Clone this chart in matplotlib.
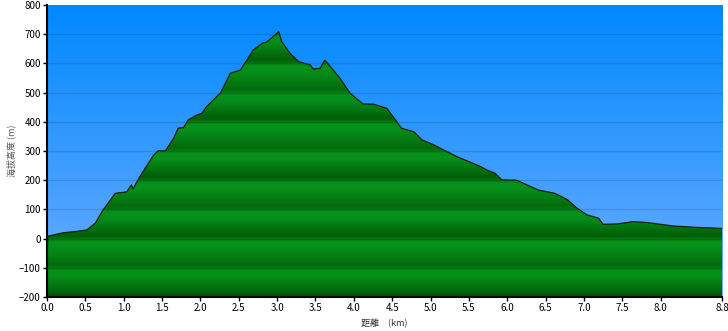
import numpy as np
import matplotlib.pyplot as plt
from matplotlib.patches import Polygon
from matplotlib.colors import LinearSegmentedColormap

plt.rcParams['font.family'] = ['Noto Sans CJK TC', 'DejaVu Sans']

# 距離 (km) と 海拔高度 (m) — 画像から読み取り
dist_km = [0.0, 0.01, 0.21, 0.40, 0.52, 0.63, 0.73, 0.89, 1.04, 1.10, 1.12, 1.21,
           1.39, 1.45, 1.54, 1.65, 1.71, 1.78, 1.84, 1.95, 2.02, 2.08, 2.17, 2.26,
           2.39, 2.52, 2.62, 2.69, 2.82, 2.86, 2.95, 3.02, 3.06, 3.17, 3.28, 3.43,
           3.47, 3.56, 3.62, 3.69, 3.82, 3.95, 4.12, 4.26, 4.43, 4.51, 4.62, 4.78,
           4.89, 5.04, 5.34, 5.65, 5.75, 5.84, 5.93, 6.12, 6.41, 6.62, 6.78, 6.91,
           7.04, 7.19, 7.25, 7.43, 7.64, 7.82, 8.17, 8.50, 8.80]
elev_m = [-80, 8, 20, 25, 30, 53, 98, 155, 160, 184, 170, 212,
          286, 301, 300, 343, 378, 380, 406, 423, 429, 452, 475, 498,
          566, 577, 617, 646, 671, 672, 692, 709, 674, 634, 606, 595,
          581, 583, 611, 590, 549, 498, 461, 460, 446, 418, 378, 366,
          338, 321, 281, 247, 233, 224, 201, 200, 166, 155, 134, 104,
          81, 70, 49, 50, 58, 55, 43, 38, 35]

xticks = [0.0, 0.5, 1.0, 1.5, 2.0, 2.5, 3.0, 3.5, 4.0, 4.5, 5.0, 5.5, 6.0,
          6.5, 7.0, 7.5, 8.0, 8.8]
yticks = list(range(-200, 801, 100))

fig = plt.figure(figsize=(7.28, 3.31), dpi=100)
ax = fig.add_axes([0.0646, 0.1027, 0.9272, 0.8823])
xmin, xmax, ymin, ymax = 0.0, 8.8, -200, 800

# 背景（青のグラデーション）
sky = LinearSegmentedColormap.from_list('sky', ['#6eaeff', '#0088ff'])
grad = np.linspace(0, 1, 256).reshape(-1, 1)
ax.imshow(grad, cmap=sky, origin='lower', aspect='auto',
          extent=[xmin, xmax, ymin, ymax], zorder=0)

# 地形（緑の縞グラデーション、100 m ごと）
v = np.linspace(ymin, ymax, 2000)
band = np.floor((v - ymin) / 100).astype(int)
phase = ((v - ymin) % 100) / 100.0
b = np.clip(phase * 1.3, 0, 1) ** 0.75
b = np.where(band % 2 == 0, b, 0.25 + 0.75 * b)
k = np.exp(-0.5 * (np.arange(-40, 41) / 14.0) ** 2)
b = np.convolve(np.pad(b, 40, mode='edge'), k / k.sum(), mode='valid')
dark = np.array([0, 76, 0]) / 255
bright = np.array([6, 146, 28]) / 255
img = (dark[None, :] * (1 - b[:, None]) + bright[None, :] * b[:, None]).reshape(-1, 1, 3)
im = ax.imshow(img, origin='lower', aspect='auto',
               extent=[xmin, xmax, ymin, ymax], zorder=1, interpolation='bilinear')
poly_pts = [(dist_km[0], ymin)] + list(zip(dist_km, elev_m)) + [(dist_km[-1], ymin)]
poly = Polygon(poly_pts, closed=True, facecolor='none', edgecolor='none')
ax.add_patch(poly)
im.set_clip_path(poly)
ax.plot(dist_km, elev_m, color='#0a200a', lw=0.9, zorder=3)

# グリッド
for y in yticks[1:-1]:
    ax.axhline(y, color='black', alpha=0.12, lw=1.0, zorder=2)

ax.set_xlim(xmin, xmax)
ax.set_ylim(ymin, ymax)
ax.set_xticks(xticks)
ax.set_xticklabels([f'{t:.1f}' for t in xticks])
ax.set_yticks(yticks)
ax.tick_params(direction='out', length=3, width=1, labelsize=7, pad=1.5)
for s in ['top', 'right']:
    ax.spines[s].set_visible(False)
for s in ['left', 'bottom']:
    ax.spines[s].set_linewidth(1.5)
ax.set_xlabel('距離　(km)', fontsize=6.5, labelpad=4, color='#333333')
ax.set_ylabel('海拔高度 (m)', fontsize=6.5, labelpad=2, color='#555555')

fig.savefig('out.png', dpi=100)
